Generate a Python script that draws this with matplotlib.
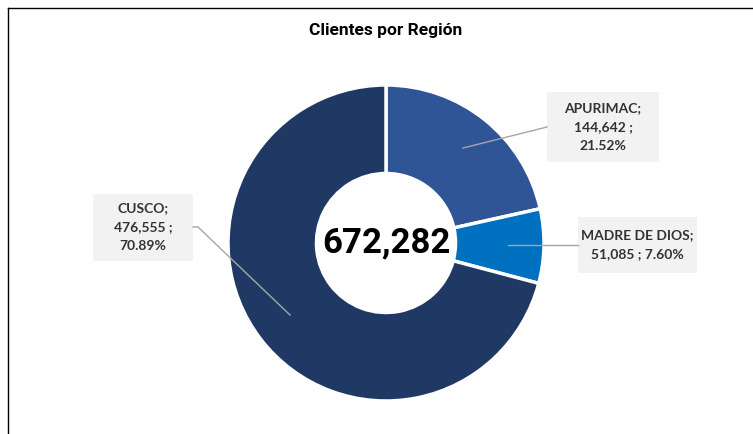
import matplotlib.pyplot as plt
from matplotlib.lines import Line2D
from matplotlib.patches import Rectangle

regions = ['APURIMAC', 'MADRE DE DIOS', 'CUSCO']
clients = [144642, 51085, 476555]
percents = ['21.52%', '7.60%', '70.89%']
colors = ['#2F5597', '#0070C0', '#203864']
label_texts = ['APURIMAC;\n144,642 ;\n21.52%',
               'MADRE DE DIOS;\n51,085 ; 7.60%',
               'CUSCO;\n476,555 ;\n70.89%']
total = sum(clients)

W, H = 753, 434
fig = plt.figure(figsize=(W / 100, H / 100), dpi=100)
cx, cy, r = 386, 243, 158
ax = fig.add_axes([(cx - r) / W, (H - cy - r) / H, 2 * r / W, 2 * r / H])

ax.pie(clients, colors=colors, startangle=90, counterclock=False, radius=1,
       wedgeprops=dict(width=0.56, edgecolor='white', linewidth=2.5))
ax.set_xlim(-1, 1)
ax.set_ylim(-1, 1)
ax.axis('off')


def d(px, py):
    # pixel position in the picture -> data coords of the donut axes
    return (px - cx) / r, (cy - py) / r


# center total
ax.text(0, 0, f'{total:,}', ha='center', va='center', fontsize=25,
        fontweight='bold', family='Roboto', color='black')

# leader lines and label boxes (pixel layout: left, top, right, bottom)
lines = [
    [(463, 148), (547, 127)],
    [(508, 245), (578, 245)],
    [(290, 315), (198, 227), (193, 227)],
]
boxes = [(547, 92, 659, 162), (578, 217, 697, 273), (93, 194, 193, 261)]
for pts, b, t in zip(lines, boxes, label_texts):
    xs, ys = zip(*[d(*p) for p in pts])
    ax.plot(xs, ys, color='#A6A6A6', linewidth=1, clip_on=False)
    x0, y1 = d(b[0], b[1])
    x1, y0 = d(b[2], b[3])
    ax.add_patch(Rectangle((x0, y0), x1 - x0, y1 - y0, facecolor='#F2F2F2',
                           edgecolor='none', clip_on=False))
    ax.text((x0 + x1) / 2, (y0 + y1) / 2, t, ha='center', va='center',
            fontsize=10, fontweight='bold', family='Lato', color='#333333',
            linespacing=1.7, clip_on=False)

fig.text(cx / W, 1 - 30 / H, 'Clientes por Región', ha='center', va='center',
         fontsize=12.5, fontweight='bold', family='Roboto', color='black')

# frame lines (top and left)
fig.add_artist(Line2D([7.5 / W, 7.5 / W], [0, 1 - 8 / H], color='black', linewidth=1))
fig.add_artist(Line2D([7.5 / W, 1], [1 - 8 / H, 1 - 8 / H], color='black', linewidth=1))

fig.savefig('out.png', dpi=100, facecolor='white')
